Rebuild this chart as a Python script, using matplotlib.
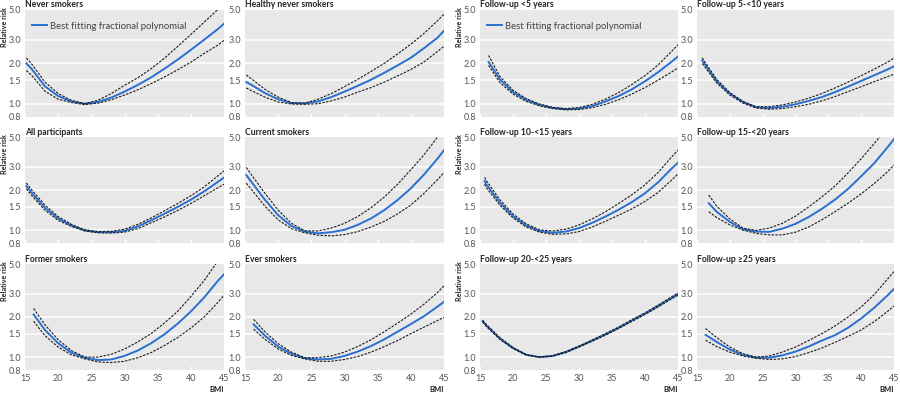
import matplotlib
matplotlib.use('Agg')
import matplotlib.pyplot as plt
from matplotlib.ticker import FixedLocator, NullLocator, FixedFormatter

plt.rcParams['font.family'] = ['Lato', 'DejaVu Sans']

# BMI points (grid shared, start differs per panel)
bmi_tail = [16, 18, 20, 22, 24, 26, 28, 30, 32, 34, 36, 38, 40, 42, 44, 45]

never_bmi = [15.2] + bmi_tail
never_rr = [2.0, 1.82, 1.35, 1.14, 1.04, 1.0, 1.03, 1.11, 1.23, 1.38, 1.57, 1.82, 2.13, 2.52, 3.0, 3.58, 3.95]
never_hi = [2.19, 1.98, 1.45, 1.19, 1.06, 1.0, 1.06, 1.19, 1.37, 1.56, 1.82, 2.18, 2.67, 3.28, 4.05, 5.0, 5.6]
never_lo = [1.77, 1.63, 1.24, 1.08, 1.02, 0.985, 1.01, 1.07, 1.16, 1.27, 1.41, 1.58, 1.79, 2.04, 2.37, 2.72, 2.97]

healthy_bmi = [15.2] + bmi_tail
healthy_rr = [1.45, 1.38, 1.2, 1.08, 1.01, 1.005, 1.04, 1.12, 1.23, 1.36, 1.51, 1.70, 1.93, 2.2, 2.6, 3.1, 3.5]
healthy_hi = [1.64, 1.53, 1.28, 1.12, 1.02, 1.01, 1.08, 1.19, 1.34, 1.52, 1.74, 2.0, 2.35, 2.78, 3.35, 4.15, 4.65]
healthy_lo = [1.31, 1.25, 1.12, 1.03, 0.995, 0.99, 1.0, 1.05, 1.12, 1.22, 1.32, 1.45, 1.61, 1.8, 2.05, 2.45, 2.68]

all_bmi = [15.2] + bmi_tail
all_rr = [2.15, 1.92, 1.48, 1.23, 1.09, 1.0, 0.97, 0.97, 0.99, 1.07, 1.19, 1.33, 1.5, 1.7, 1.96, 2.3, 2.49]
all_hi = [2.27, 2.02, 1.55, 1.27, 1.11, 1.01, 0.98, 0.985, 1.02, 1.11, 1.24, 1.4, 1.59, 1.82, 2.12, 2.55, 2.8]
all_lo = [2.05, 1.83, 1.42, 1.19, 1.07, 0.99, 0.96, 0.955, 0.97, 1.03, 1.14, 1.26, 1.41, 1.59, 1.82, 2.08, 2.22]

current_bmi = [15.2] + bmi_tail
current_rr = [2.6, 2.3, 1.7, 1.3, 1.08, 0.98, 0.95, 0.97, 1.01, 1.10, 1.23, 1.42, 1.69, 2.07, 2.63, 3.45, 4.0]
current_hi = [2.97, 2.6, 1.9, 1.42, 1.13, 0.995, 0.99, 1.04, 1.13, 1.27, 1.48, 1.78, 2.22, 2.85, 3.7, 5.0, 5.8]
current_lo = [2.26, 2.02, 1.52, 1.2, 1.03, 0.96, 0.92, 0.91, 0.93, 0.98, 1.06, 1.17, 1.33, 1.55, 1.9, 2.4, 2.72]

former_bmi = [16.3] + bmi_tail[1:]
former_rr = [2.09, 1.6, 1.27, 1.08, 0.99, 0.95, 0.96, 1.02, 1.12, 1.27, 1.48, 1.78, 2.2, 2.8, 3.7, 4.18]
former_hi = [2.32, 1.75, 1.35, 1.12, 1.0, 1.0, 1.05, 1.15, 1.3, 1.5, 1.8, 2.2, 2.85, 3.75, 5.2, 6.0]
former_lo = [1.86, 1.45, 1.19, 1.04, 0.97, 0.92, 0.91, 0.93, 0.99, 1.08, 1.22, 1.4, 1.65, 2.0, 2.55, 2.92]

ever_bmi = [16.3] + bmi_tail[1:]
ever_rr = [1.76, 1.45, 1.2, 1.06, 0.98, 0.96, 0.97, 1.02, 1.1, 1.21, 1.36, 1.55, 1.77, 2.03, 2.39, 2.6]
ever_hi = [1.92, 1.55, 1.26, 1.09, 0.99, 0.99, 1.02, 1.09, 1.2, 1.35, 1.55, 1.8, 2.1, 2.5, 3.05, 3.43]
ever_lo = [1.62, 1.36, 1.15, 1.03, 0.97, 0.93, 0.93, 0.96, 1.01, 1.09, 1.2, 1.33, 1.5, 1.68, 1.88, 1.99]

fu5_bmi = [16.3] + bmi_tail[1:]
fu5_rr = [2.05, 1.52, 1.22, 1.07, 0.98, 0.93, 0.91, 0.92, 0.96, 1.04, 1.14, 1.28, 1.47, 1.72, 2.05, 2.25]
fu5_hi = [2.29, 1.6, 1.26, 1.09, 0.995, 0.94, 0.92, 0.935, 0.99, 1.08, 1.21, 1.39, 1.62, 1.95, 2.45, 2.75]
fu5_lo = [1.93, 1.44, 1.18, 1.04, 0.965, 0.92, 0.9, 0.905, 0.935, 0.99, 1.07, 1.18, 1.32, 1.5, 1.72, 1.85]

fu10_bmi = [15.8] + bmi_tail
fu10_rr = [2.1, 2.03, 1.47, 1.19, 1.03, 0.94, 0.93, 0.95, 0.99, 1.05, 1.12, 1.22, 1.34, 1.48, 1.63, 1.8, 1.9]
fu10_hi = [2.2, 2.12, 1.52, 1.21, 1.04, 0.95, 0.95, 0.98, 1.03, 1.1, 1.19, 1.31, 1.45, 1.62, 1.81, 2.04, 2.19]
fu10_lo = [1.99, 1.94, 1.43, 1.16, 1.01, 0.93, 0.91, 0.92, 0.95, 0.99, 1.05, 1.13, 1.23, 1.34, 1.46, 1.59, 1.66]

fu15_bmi = [15.7] + bmi_tail
fu15_rr = [2.35, 2.2, 1.62, 1.28, 1.09, 0.99, 0.96, 0.98, 1.04, 1.14, 1.27, 1.43, 1.63, 1.9, 2.3, 2.9, 3.22]
fu15_hi = [2.5, 2.35, 1.7, 1.33, 1.12, 1.01, 0.99, 1.02, 1.1, 1.22, 1.38, 1.59, 1.85, 2.2, 2.72, 3.55, 4.0]
fu15_lo = [2.22, 2.08, 1.55, 1.24, 1.06, 0.97, 0.935, 0.94, 0.98, 1.06, 1.17, 1.3, 1.45, 1.65, 1.93, 2.38, 2.65]

fu20_bmi = [16.8] + bmi_tail[1:]
fu20_rr = [1.6, 1.38, 1.16, 1.02, 0.98, 0.975, 1.03, 1.12, 1.26, 1.45, 1.7, 2.05, 2.55, 3.2, 4.2, 4.85]
fu20_hi = [1.84, 1.52, 1.22, 1.04, 1.0, 1.04, 1.13, 1.28, 1.5, 1.78, 2.15, 2.7, 3.45, 4.5, 5.9, 6.7]
fu20_lo = [1.38, 1.25, 1.1, 1.005, 0.95, 0.925, 0.925, 0.97, 1.06, 1.2, 1.38, 1.6, 1.88, 2.25, 2.75, 3.1]

fu25_bmi = [15.4] + bmi_tail
fu25_rr = [1.86, 1.72, 1.38, 1.17, 1.04, 1.0, 1.02, 1.09, 1.2, 1.33, 1.48, 1.66, 1.88, 2.12, 2.42, 2.78, 2.97]
fu25_hi = [1.89, 1.75, 1.4, 1.18, 1.045, 1.0, 1.025, 1.1, 1.21, 1.345, 1.5, 1.68, 1.91, 2.15, 2.46, 2.83, 3.03]
fu25_lo = [1.83, 1.69, 1.36, 1.16, 1.035, 1.0, 1.015, 1.08, 1.19, 1.315, 1.46, 1.64, 1.85, 2.09, 2.38, 2.73, 2.91]

fu_last_bmi = [16.3] + bmi_tail[1:]
fu_last_rr = [1.47, 1.3, 1.14, 1.04, 0.99, 0.99, 1.03, 1.1, 1.2, 1.33, 1.46, 1.66, 1.95, 2.35, 2.9, 3.25]
fu_last_hi = [1.64, 1.4, 1.19, 1.06, 1.0, 1.02, 1.09, 1.19, 1.33, 1.5, 1.71, 2.0, 2.38, 2.95, 3.85, 4.38]
fu_last_lo = [1.34, 1.2, 1.09, 1.02, 0.98, 0.96, 0.97, 1.01, 1.08, 1.17, 1.29, 1.43, 1.6, 1.85, 2.2, 2.42]

y_ticks = [0.8, 1.0, 1.5, 2.0, 3.0, 5.0]
y_labels = ['0.8', '1.0', '1.5', '2.0', '3.0', '5.0']
x_ticks = [15, 20, 25, 30, 35, 40, 45]

# (title, bmi, rr, lo, hi, column, row)
panels = [
    ('Never smokers', never_bmi, never_rr, never_lo, never_hi, 0, 0),
    ('Healthy never smokers', healthy_bmi, healthy_rr, healthy_lo, healthy_hi, 1, 0),
    ('All participants', all_bmi, all_rr, all_lo, all_hi, 0, 1),
    ('Current smokers', current_bmi, current_rr, current_lo, current_hi, 1, 1),
    ('Former smokers', former_bmi, former_rr, former_lo, former_hi, 0, 2),
    ('Ever smokers', ever_bmi, ever_rr, ever_lo, ever_hi, 1, 2),
    ('Follow-up <5 years', fu5_bmi, fu5_rr, fu5_lo, fu5_hi, 2, 0),
    ('Follow-up 5-<10 years', fu10_bmi, fu10_rr, fu10_lo, fu10_hi, 3, 0),
    ('Follow-up 10-<15 years', fu15_bmi, fu15_rr, fu15_lo, fu15_hi, 2, 1),
    ('Follow-up 15-<20 years', fu20_bmi, fu20_rr, fu20_lo, fu20_hi, 3, 1),
    ('Follow-up 20-<25 years', fu25_bmi, fu25_rr, fu25_lo, fu25_hi, 2, 2),
    ('Follow-up ≥25 years', fu_last_bmi, fu_last_rr, fu_last_lo, fu_last_hi, 3, 2),
]

W, H = 900, 395
col_x = [(25, 199), (245, 199), (480, 198), (697, 197)]
row_y = [(10, 116.7), (137.3, 243.3), (264, 370)]

blue = '#2a6fcf'
bg = '#e8e8e8'
txt = '#222222'
tick_c = '#555555'

fig = plt.figure(figsize=(9, 3.95), dpi=100)

for title, bmi, rr, lo, hi, c, r in panels:
    x0, w = col_x[c]
    top, bot = row_y[r]
    h = bot - top
    ax = fig.add_axes([x0 / W, (H - bot) / H, w / W, h / H])
    ax.set_facecolor(bg)
    for s in ax.spines.values():
        s.set_visible(False)
    ax.set_yscale('log')
    ax.set_xlim(15, 45)
    ax.set_ylim(0.8, 5.0)
    ax.yaxis.set_major_locator(FixedLocator(y_ticks))
    ax.yaxis.set_major_formatter(FixedFormatter(y_labels))
    ax.yaxis.set_minor_locator(NullLocator())
    ax.xaxis.set_major_locator(FixedLocator(x_ticks))
    for g in [1.0, 1.5, 2.0, 3.0]:
        ax.axhline(g, color='white', lw=1.1, zorder=1)

    ax.plot(bmi, hi, color='#1a1a1a', lw=0.8, ls=(0, (2.2, 1.2)), zorder=3)
    ax.plot(bmi, lo, color='#1a1a1a', lw=0.8, ls=(0, (2.2, 1.2)), zorder=3)
    ax.plot(bmi, rr, color=blue, lw=1.4, zorder=2,
            label='Best fitting fractional polynomial')

    ax.tick_params(axis='y', length=0, pad=3, labelsize=6.5, labelcolor=tick_c)
    ax.tick_params(axis='x', direction='in', length=3, width=0.8, color='white',
                   pad=3, labelsize=6.5, labelcolor=tick_c)
    if r < 2:
        ax.tick_params(axis='x', labelbottom=False)
    else:
        ax.text(1.0, -(392.5 - bot) / h, 'BMI', transform=ax.transAxes,
                ha='right', va='baseline', fontsize=5.5, fontweight='bold',
                color=txt)

    ax.text(0.0, 1 + 2.5 / h, title, transform=ax.transAxes, ha='left',
            va='baseline', fontsize=6.2, fontweight='bold', color=txt)

    if c in (0, 2):
        ax.text(-20.0 / w, 1.03, 'Relative risk', transform=ax.transAxes,
                rotation=90, ha='center', va='top', fontsize=5.2,
                fontweight='bold', color=txt)
    if r == 0 and c in (0, 2):
        ax.legend(loc='center left', frameon=False, fontsize=6.8,
                  handlelength=1.6, handletextpad=0.3, borderpad=0,
                  borderaxespad=0, bbox_to_anchor=(0.035, 0.85),
                  labelcolor='#444444')

fig.savefig('out.png', dpi=100)
